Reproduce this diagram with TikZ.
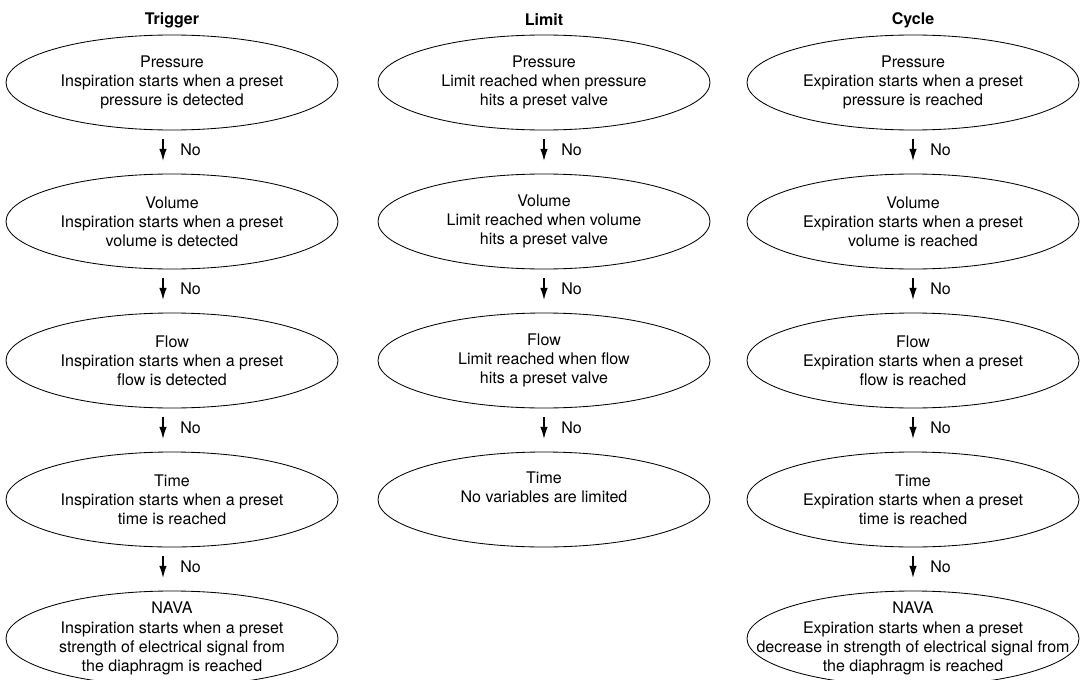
\documentclass[tikz,border=0pt]{standalone}
\usepackage{fontspec}
\setmainfont{TeX Gyre Heros}
\usetikzlibrary{shapes.geometric,arrows.meta}

\begin{document}
\begin{tikzpicture}[
    oval/.style = {draw, ellipse, line width=0.6pt, minimum width=8.3cm, minimum height=2.375cm, inner sep=0pt},
    txt/.style = {align=center, inner sep=0pt, font=\fontsize{11.4}{13.6}\selectfont},
    head/.style = {font=\bfseries\fontsize{11.4}{13.6}\selectfont},
    arr/.style = {-{Latex[length=3mm,width=1.9mm]}, line width=0.8pt, shorten <=0.22cm, shorten >=0.32cm},
    lab/.style = {right, xshift=0.3cm, pos=0.45, font=\fontsize{11.4}{13.6}\selectfont}
]
    \useasboundingbox (0,0) rectangle (27.025,-16.975);

    % Headings
    \node[head] (trighead) at (4.3,-0.5) {Trigger};
    \node[head] (limhead) at (13.6,-0.5) {Limit};
    \node[head] (cychead) at (22.825,-0.5) {Cycle};

    % Trigger column
    \node[oval, label={[txt]center:{Pressure\\Inspiration starts when a preset\\pressure is detected}}] (trpress) at (4.3,-2.0625) {};
    \node[oval, label={[txt]center:{Volume\\Inspiration starts when a preset\\volume is detected}}] (trvol) at (4.3,-5.5375) {};
    \node[oval, label={[txt]center:{Flow\\Inspiration starts when a preset\\flow is detected}}] (trflow) at (4.3,-9.0125) {};
    \node[oval, label={[txt]center:{Time\\Inspiration starts when a preset\\time is reached}}] (trtime) at (4.3,-12.4875) {};
    \node[oval, label={[txt]center:{NAVA\\Inspiration starts when a preset\\strength of electrical signal from\\the diaphragm is reached}}] (trnava) at (4.3,-15.9625) {};

    % Limit column
    \node[oval, label={[txt]center:{Pressure\\Limit reached when pressure\\hits a preset valve}}] (lipress) at (13.6,-2.0625) {};
    \node[oval, label={[txt]center:{Volume\\Limit reached when volume\\hits a preset valve}}] (livol) at (13.6,-5.5375) {};
    \node[oval, label={[txt]center:{Flow\\Limit reached when flow\\hits a preset valve}}] (liflow) at (13.6,-9.0125) {};
    \node[oval, label={[txt]center:{Time\\No variables are limited\\\strut}}] (litime) at (13.6,-12.4875) {};

    % Cycle column
    \node[oval, label={[txt]center:{Pressure\\Expiration starts when a preset\\pressure is reached}}] (cypress) at (22.825,-2.0625) {};
    \node[oval, label={[txt]center:{Volume\\Expiration starts when a preset\\volume is reached}}] (cyvol) at (22.825,-5.5375) {};
    \node[oval, label={[txt]center:{Flow\\Expiration starts when a preset\\flow is reached}}] (cyflow) at (22.825,-9.0125) {};
    \node[oval, label={[txt]center:{Time\\Expiration starts when a preset\\time is reached}}] (cytime) at (22.825,-12.4875) {};
    \node[oval, label={[txt]center:{NAVA\\Expiration starts when a preset\\decrease in strength of electrical signal from\\the diaphragm is reached}}] (cynava) at (22.825,-15.9625) {};

    % "No" arrows
    \draw[arr] ([xshift=-0.225cm]trpress.south) -- ([xshift=-0.225cm]trvol.north) node[lab] {No};
    \draw[arr] ([xshift=-0.225cm]trvol.south) -- ([xshift=-0.225cm]trflow.north) node[lab] {No};
    \draw[arr] ([xshift=-0.225cm]trflow.south) -- ([xshift=-0.225cm]trtime.north) node[lab] {No};
    \draw[arr] ([xshift=-0.225cm]trtime.south) -- ([xshift=-0.225cm]trnava.north) node[lab] {No};

    \draw[arr] (lipress.south) -- (livol.north) node[lab] {No};
    \draw[arr] (livol.south) -- (liflow.north) node[lab] {No};
    \draw[arr] (liflow.south) -- (litime.north) node[lab] {No};

    \draw[arr] (cypress.south) -- (cyvol.north) node[lab] {No};
    \draw[arr] (cyvol.south) -- (cyflow.north) node[lab] {No};
    \draw[arr] (cyflow.south) -- (cytime.north) node[lab] {No};
    \draw[arr] (cytime.south) -- (cynava.north) node[lab] {No};
\end{tikzpicture}
\end{document}
